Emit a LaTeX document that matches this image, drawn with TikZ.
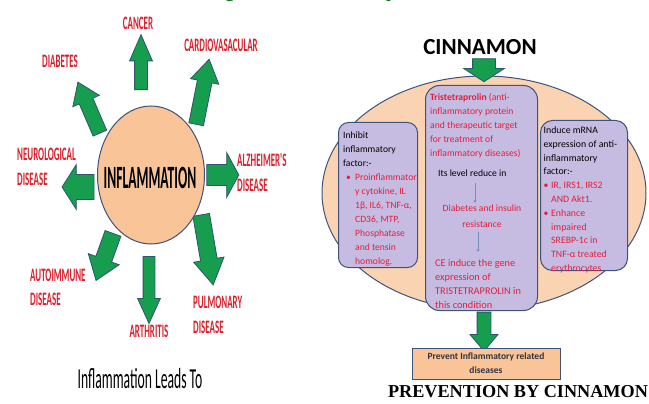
\documentclass[tikz,border=0pt]{standalone}
\usepackage{fontspec}
\setmainfont{Carlito}
\newfontfamily\condfont[FakeStretch=0.47]{Carlito}
\newfontfamily\inflfont[FakeStretch=0.42]{Carlito}
\newfontfamily\serifbf{Liberation Serif}
\usetikzlibrary{shapes.arrows,shapes.geometric,calc,arrows.meta}
\definecolor{lblred}{RGB}{218,32,44}
\definecolor{txtred}{RGB}{226,30,60}
\definecolor{agreen}{RGB}{22,158,78}
\definecolor{aedge}{RGB}{45,85,110}
\definecolor{peach}{RGB}{248,196,152}
\definecolor{peachlt}{RGB}{250,212,178}
\definecolor{lav}{RGB}{198,188,226}
\definecolor{bedge}{RGB}{62,82,122}
\definecolor{ttlgreen}{RGB}{20,120,30}
\definecolor{thinblue}{RGB}{120,140,190}
\tikzset{
  blockarrow/.style={single arrow, draw=aedge, fill=agreen, line width=0.8pt,
    inner xsep=0pt, single arrow head indent=0pt},
  lbl/.style={font=\condfont\bfseries\fontsize{19}{25}\selectfont, text=lblred,
    inner sep=0pt, align=left},
  rbox/.style={draw=bedge, fill=lav, line width=1pt, rounded corners=#1,
    inner sep=0pt, anchor=north west},
  btxt/.style={inner sep=0pt, align=left, anchor=north west,
    font=\fontsize{9.6}{14}\selectfont},
  thinarr/.style={draw=thinblue, line width=0.6pt, -{Stealth[length=3pt,width=3pt]}},
  titlefrag/.style={font=\serifbf\bfseries\fontsize{24}{28}\selectfont, text=ttlgreen,
    inner sep=0pt, anchor=base}
}
% name, tail, tip, shaft width, head extend, tip angle
\newcommand\garrow[6]{%
  \path let \p1=($(#3)-(#2)$), \n1={atan2(\y1,\x1)}, \n2={veclen(\x1,\y1)} in
    node[blockarrow, inner ysep=#4*0.5, single arrow head extend=#5,
      single arrow tip angle=#6, minimum height=\n2, rotate=\n1]
      (#1) at ($(#2)!0.5!(#3)$) {};}
\begin{document}
\begin{tikzpicture}[x=1pt,y=-1pt]
\path[use as bounding box, fill=white] (0,0) rectangle (649,404);

% cut-off title fragments
\node[titlefrag] (tp) at (233,-3) {p};
\node[titlefrag] (ty) at (392,-3) {y};

% ---------------- left part ----------------
\garrow{aCancer}{141,97}{141,42}{12pt}{5pt}{47}
\garrow{aDiab}{102,138}{80,87}{14pt}{7pt}{70}
\garrow{aCardio}{195,130}{208,65}{14pt}{7pt}{65}
\garrow{aNeuro}{98,187}{66,187}{24pt}{10pt}{115}
\garrow{aAlz}{204,175}{236,175}{20pt}{12pt}{123}
\garrow{aAuto}{115,228}{98,275}{16pt}{8pt}{72}
\garrow{aArth}{149,250}{149,317}{11pt}{5.5pt}{49}
\garrow{aPulm}{200,208}{212,278}{16pt}{7pt}{62}

\node[ellipse, draw=bedge, fill=peach, line width=1pt, minimum width=107pt,
  minimum height=138pt, inner sep=0pt] (infl) at (151,175) {};
\node[inner sep=0pt, font=\inflfont\bfseries\fontsize{32.5}{36}\selectfont]
  (infltxt) at (150,178) {INFLAMMATION};

\node[lbl] (cancer) at (138,23) {CANCER};
\node[lbl] (diab) at (60,61) {DIABETES};
\node[lbl] (cardio) at (221,45) {CARDIOVASACULAR};
\node[lbl, anchor=north west] (neuro) at (17,148) {NEUROLOGICAL\\DISEASE};
\node[lbl, anchor=north west] (alz) at (237,153) {ALZHEIMER'S\\DISEASE};
\node[lbl, anchor=north west, font=\condfont\bfseries\fontsize{19}{24}\selectfont]
  (auto) at (30,269) {AUTOIMMUNE\\DISEASE};
\node[lbl] (arth) at (149,331) {ARTHRITIS};
\node[lbl, anchor=north west] (pulm) at (193,296) {PULMONARY\\DISEASE};

\node[inner sep=0pt, font=\condfont\fontsize{29}{32}\selectfont]
  (leads) at (140,379) {Inflammation Leads To};

% ---------------- right part ----------------
\node[inner sep=0pt, font=\bfseries\fontsize{23}{26}\selectfont]
  (cinn) at (480,47) {CINNAMON};

\node[ellipse, draw=bedge, fill=peachlt, line width=1pt, minimum width=324pt,
  minimum height=234pt, inner sep=0pt] (cloud) at (484,193) {};

\garrow{aCinn}{484,55}{484,78}{22pt}{9pt}{114}

\node[rbox=10pt, minimum width=79pt, minimum height=145pt] (lbox) at (338,122) {};
\node[rbox=14pt, minimum width=112pt, minimum height=225pt] (mbox) at (425,85) {};
\node[rbox=12pt, minimum width=87pt, minimum height=150pt] (rbox) at (540,120) {};

\node[btxt] (ltxt) at (343,131.4) {Inhibit\\inflammatory\\factor:-\\
  {\color{txtred}\makebox[12pt][l]{\hspace{3pt}\textbullet}Proinflammator}\\
  \hspace*{12pt}{\color{txtred}y cytokine, IL}\\
  \hspace*{12pt}{\color{txtred}1β, IL6, TNF-α,}\\
  \hspace*{12pt}{\color{txtred}CD36, MTP,}\\
  \hspace*{12pt}{\color{txtred}Phosphatase}\\
  \hspace*{12pt}{\color{txtred}and tensin}\\
  \hspace*{12pt}{\color{txtred}homolog.}};

\node[btxt, text=txtred] (mtxt) at (430,93.4) {\textbf{Tristetraprolin} (anti-\\
  inflammatory protein\\and therapeutic target\\for treatment of\\inflammatory diseases)};
\node[inner sep=0pt, anchor=base west, font=\fontsize{9.6}{14}\selectfont]
  (its) at (438,176) {Its level reduce in};
\node[inner sep=0pt, anchor=north, align=center, text=txtred,
  font=\fontsize{9.6}{16}\selectfont] (dbt) at (482,204.4) {Diabetes and insulin\\resistance};
\node[btxt, text=txtred, font=\fontsize{10.3}{13.7}\selectfont] (ce) at (435,259.6)
  {CE induce the gene\\expression of\\TRISTETRAPROLIN in\\this condition};

\coordinate (t1s) at (475,183);
\coordinate (t1e) at (475,203);
\coordinate (t2s) at (478,232);
\coordinate (t2e) at (478,252);
\draw[thinarr] (t1s) -- (t1e);
\draw[thinarr] (t2s) -- (t2e);

\node[btxt, font=\fontsize{9.8}{13.8}\selectfont] (rtxt) at (543.5,126.4)
  {Induce mRNA\\expression of anti-\\inflammatory\\factor:-\\
  {\color{txtred}\makebox[7.5pt][l]{\textbullet}IR, IRS1, IRS2}\\
  \hspace*{7.5pt}{\color{txtred}AND Akt1.}\\
  {\color{txtred}\makebox[7.5pt][l]{\textbullet}Enhance}\\
  \hspace*{7.5pt}{\color{txtred}impaired}\\
  \hspace*{7.5pt}{\color{txtred}SREBP-1c in}\\
  \hspace*{7.5pt}{\color{txtred}TNF-α treated}\\
  \hspace*{7.5pt}{\color{txtred}erythrocytes}};

\garrow{aPrev}{484,308}{484,347}{13pt}{7pt}{80}

\node[draw=bedge, fill=peach, line width=1pt, minimum width=148pt, minimum height=31pt,
  inner sep=0pt, align=center, text={rgb,255:red,50;green,50;blue,65},
  font=\bfseries\fontsize{9.5}{14}\selectfont] (prev) at (486,363.5)
  {Prevent Inflammatory related\\diseases};

\node[inner sep=0pt, font=\serifbf\bfseries\fontsize{18.2}{22}\selectfont]
  (prevtitle) at (518,391.5) {PREVENTION BY CINNAMON};
\end{tikzpicture}
\end{document}
